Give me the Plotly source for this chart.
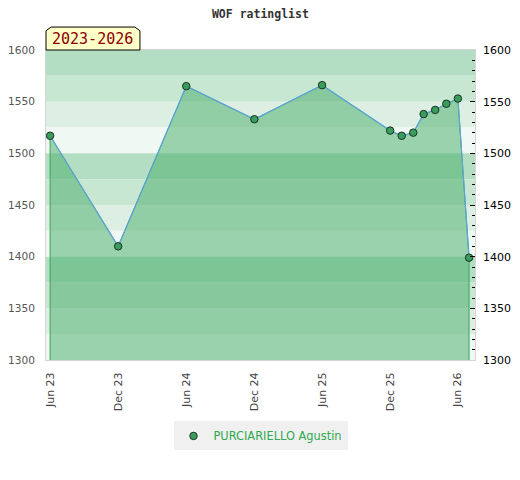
import plotly.graph_objects as go

# rating history (first of month)
dates = ["2023-06-01", "2023-12-01", "2024-06-01", "2024-12-01", "2025-06-01",
         "2025-12-01", "2026-01-01", "2026-02-01", "2026-03-01", "2026-04-01",
         "2026-05-01", "2026-06-01", "2026-07-01"]
ratings = [1517, 1410, 1565, 1533, 1566, 1522, 1517, 1520, 1538, 1542, 1548, 1553, 1399]
player = "PURCIARIELLO Agustin"
period = "2023-2026"
title = "WOF ratinglist"

y_min, y_max = 1300, 1600
band_colors = ["#b3dec3", "#c8e7d3", "#ddefe3", "#eff8f2"]

fig = go.Figure()

# horizontal background bands, 25 points each
shapes = []
lo = y_max
i = 0
while lo > y_min:
    shapes.append(dict(type="rect", xref="paper", yref="y", x0=0, x1=1,
                       y0=lo - 25, y1=lo, fillcolor=band_colors[i % 4],
                       line_width=0, layer="below"))
    lo -= 25
    i += 1

# label box with bevelled top corners (plot is 429 x 310 px)
shapes.append(dict(type="path", xref="paper", yref="paper",
                   path="M 0,1 L 0,1.062 L 0.012,1.074 L 0.207,1.074 L 0.219,1.062 L 0.219,1 Z",
                   fillcolor="#ffffc8", line=dict(color="black", width=1)))

# filled area, closed down to the axis bottom
fig.add_trace(go.Scatter(
    x=[dates[0]] + dates + [dates[-1]],
    y=[y_min] + ratings + [y_min],
    mode="lines", fill="toself",
    fillcolor="rgba(69,172,104,0.5)",
    line=dict(color="#3aa65a", width=1),
    hoverinfo="skip", showlegend=False
))

fig.add_trace(go.Scatter(
    x=dates, y=ratings, mode="lines", showlegend=False,
    line=dict(color="#5fa3d9", width=1.2), hoverinfo="skip"
))

fig.add_trace(go.Scatter(
    x=dates, y=ratings, mode="markers", name=player,
    marker=dict(color="#3a9d5d", size=7.5, line=dict(color="#1b3322", width=1))
))

# dummy trace so the right axis is drawn
fig.add_trace(go.Scatter(x=[dates[0]], y=[ratings[0]], yaxis="y2", mode="markers",
                         marker=dict(opacity=0), hoverinfo="skip", showlegend=False))

fig.add_annotation(text=period, xref="paper", yref="paper", x=0.1095, y=1.037,
                   xanchor="center", yanchor="middle", showarrow=False,
                   font=dict(family="DejaVu Sans Mono", size=15, color="#8b0000"))

# page body adds 8px margin, so the figure is 8px smaller than the window
fig.update_layout(
    width=512, height=472,
    margin=dict(l=38, r=45, t=42, b=120, autoexpand=False),
    paper_bgcolor="white", plot_bgcolor="white",
    shapes=shapes,
    title=dict(text="<b>" + title + "</b>", x=0.493, xanchor="center", y=0.996, yanchor="top",
               font=dict(family="DejaVu Sans Mono", size=11.5, color="#333333")),
    xaxis=dict(
        type="date", range=["2023-05-21", "2026-07-17"],
        tick0="2023-06-01", dtick="M6", tickformat="%b %y", tickangle=-90,
        showgrid=False, zeroline=False, automargin=False,
        showline=True, linecolor="#d4d4d4", mirror=True,
        ticks="", ticklabelstandoff=7,
        tickfont=dict(family="DejaVu Sans", size=11, color="#444444")
    ),
    yaxis=dict(
        range=[y_min, y_max], dtick=50, showgrid=False, zeroline=False,
        showline=True, linecolor="#d4d4d4", mirror=True, ticks="",
        automargin=False, ticklabelstandoff=8,
        tickfont=dict(family="DejaVu Sans", size=10.6, color="#555555")
    ),
    yaxis2=dict(
        range=[y_min, y_max], dtick=50, overlaying="y", side="right",
        showgrid=False, zeroline=False, ticks="inside", ticklen=5,
        tickcolor="black", automargin=False, ticklabelstandoff=7,
        minor=dict(dtick=10, ticks="inside", ticklen=3, tickcolor="black"),
        tickfont=dict(family="DejaVu Sans", size=11, color="black")
    ),
    legend=dict(orientation="h", x=0.5, xanchor="center", y=-0.245, yanchor="middle",
                bgcolor="#f0f0f0", itemwidth=30,
                font=dict(family="DejaVu Sans", size=11.4, color="#2fa84f")),
    showlegend=True
)

fig.write_html("out.html")
